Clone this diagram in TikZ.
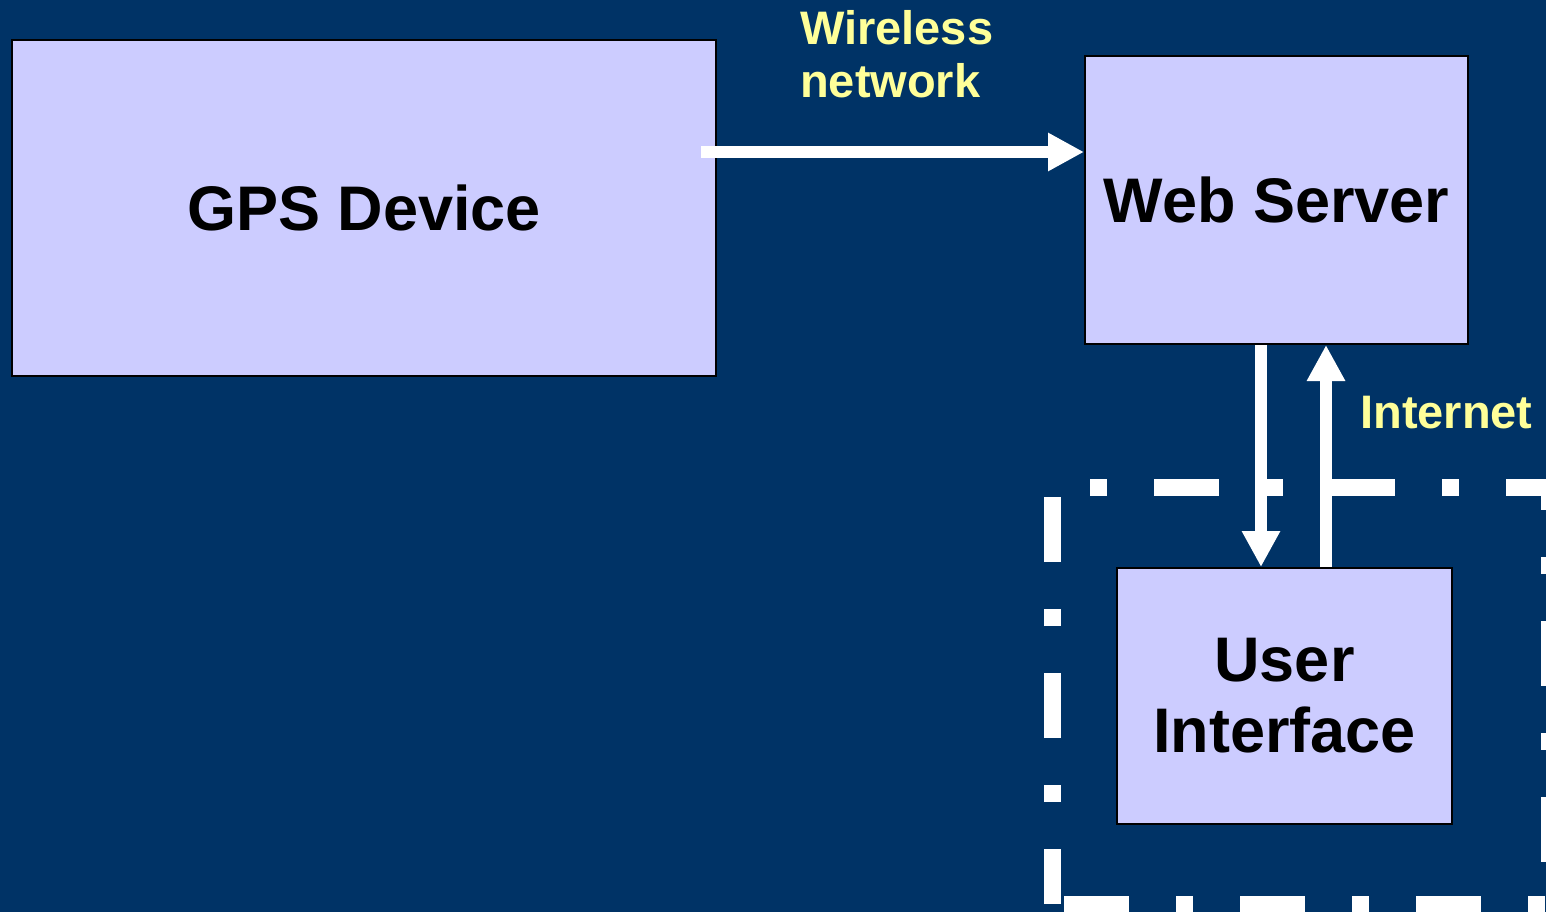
\documentclass[tikz,border=0pt]{standalone}
\usepackage{fontspec}
\setmainfont{Liberation Sans}
\usetikzlibrary{arrows.meta}
\definecolor{slidebg}{RGB}{0,51,102}
\definecolor{boxfill}{RGB}{204,204,255}
\definecolor{labelyellow}{RGB}{255,255,153}

\begin{document}
\begin{tikzpicture}
[every node/.style={inner sep=0pt},
 block/.style={rectangle, fill=boxfill, draw=black, line width=2pt, align=center, font=\fontsize{63}{71}\selectfont\bfseries},
 link/.style={line width=12.5pt, draw=white, -{Triangle[length=36pt, width=36pt]}},
 linklabel/.style={text=labelyellow, align=left, font=\fontsize{47}{53}\selectfont\bfseries},
 clientframe/.style={draw=white, line width=17pt, dash pattern=on 17pt off 47pt on 65pt off 47pt, dash phase=74pt}]
\clip (0pt, 0pt) rectangle (1546pt, -912pt);
\fill [slidebg] (0pt, 0pt) rectangle (1546pt, -912pt);
% client side frame
\coordinate (fbl) at (1052.5pt, -904pt);
\coordinate (ftr) at (1549pt, -487.5pt);
\draw [clientframe] (fbl) |- (ftr) |- (fbl);
\node (gps) [block, minimum width=704pt, minimum height=336pt] at (364pt, -208pt) {GPS Device};
\node (server) [block, minimum width=383pt, minimum height=288pt] at (1276.5pt, -200pt) {Web Server};
\node (ui) [block, minimum width=335pt, minimum height=256pt] at (1284.5pt, -696pt) {User\\Interface};
\node (wireless) [linklabel, anchor=north west] at (800pt, -10pt) {Wireless\\network};
\node (internet) [linklabel, anchor=west] at (1360pt, -413pt) {Internet};
\coordinate (wl) at ([xshift=-16pt, yshift=56pt]gps.east);
\coordinate (dn) at ([xshift=-15.5pt]server.south);
\coordinate (up) at ([xshift=49.5pt]server.south);
\draw [link] (wl) to (wl -| server.west);
\draw [link] (dn) to (dn |- ui.north);
\draw [link] (up |- ui.north) to (up);
\end{tikzpicture}
\end{document}
